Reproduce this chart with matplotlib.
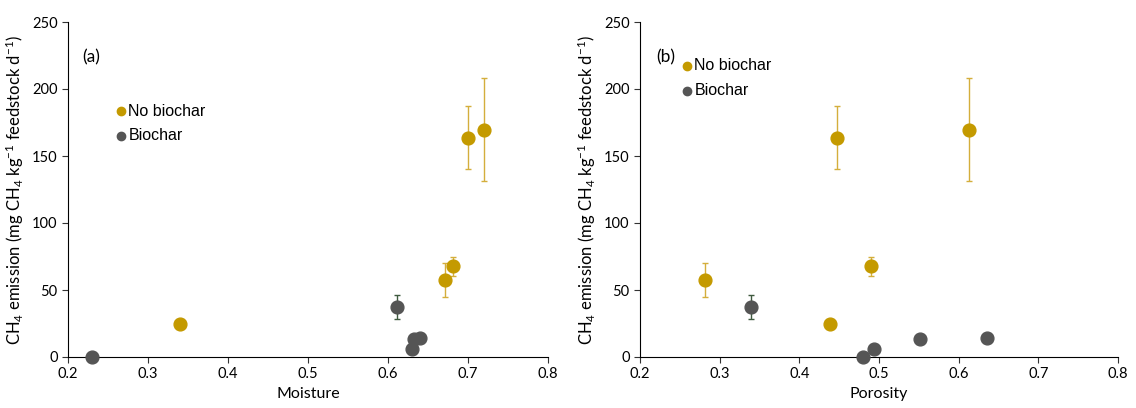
import matplotlib.pyplot as plt

plt.rcParams['font.family'] = ['Lato', 'DejaVu Sans']
plt.rcParams['mathtext.fontset'] = 'custom'
plt.rcParams['mathtext.rm'] = 'Lato'
plt.rcParams['mathtext.it'] = 'Lato:italic'

# no biochar
nb_moist = [0.34, 0.671, 0.681, 0.700, 0.720]
nb_poro = [0.438, 0.281, 0.490, 0.447, 0.613]
nb_ch4 = [25, 57.5, 67.7, 163.7, 169.6]
nb_err = [0, 12.7, 7.3, 23.5, 38.5]

# biochar
bc_moist = [0.23, 0.611, 0.630, 0.632, 0.640]
bc_poro = [0.480, 0.339, 0.494, 0.551, 0.635]
bc_ch4 = [0, 37.1, 6, 13.2, 14]
bc_err = [0, 9, 0, 0, 0]

gold = '#C49A00'
gold_err = '#D4AE3C'
grey = '#555555'
grey_err = '#3F5A3F'

ylabel = 'CH$_4$ emission (mg CH$_4$ kg$^{-1}$ feedstock d$^{-1}$)'

fig = plt.figure(figsize=(11.36, 4.08), dpi=100)
ax1 = fig.add_axes([68/1136, 51/408, 480/1136, 335/408])
ax2 = fig.add_axes([640/1136, 51/408, 478/1136, 335/408])

panels = [(ax1, nb_moist, bc_moist, 'Moisture', '(a)', (0.110, 0.734), (0.03, 0.895)),
          (ax2, nb_poro, bc_poro, 'Porosity', '(b)', (0.098, 0.869), (0.035, 0.895))]

for ax, nbx, bcx, xlabel, tag, legpos, tagpos in panels:
    ax.errorbar(nbx, nb_ch4, yerr=nb_err, fmt='none', ecolor=gold_err, elinewidth=1,
                capsize=2.5, capthick=1, zorder=1)
    ax.errorbar(bcx, bc_ch4, yerr=bc_err, fmt='none', ecolor=grey_err, elinewidth=1,
                capsize=2.5, capthick=1, zorder=1)
    ax.plot(nbx, nb_ch4, 'o', color=gold, markersize=9.2, zorder=3, clip_on=False)
    ax.plot(bcx, bc_ch4, 'o', color=grey, markersize=9.2, zorder=3, clip_on=False)

    ax.set_xlim(0.2, 0.8)
    ax.set_ylim(0, 250)
    ax.set_xticks([0.2, 0.3, 0.4, 0.5, 0.6, 0.7, 0.8])
    ax.set_xticklabels(['0.2', '0.3', '0.4', '0.5', '0.6', '0.7', '0.8'])
    ax.set_yticks([0, 50, 100, 150, 200, 250])
    ax.spines['top'].set_visible(False)
    ax.spines['right'].set_visible(False)
    ax.tick_params(axis='both', labelsize=10.5, length=4, width=0.8, color='#333333')
    ax.set_xlabel(xlabel, fontsize=11.5)
    ax.set_ylabel(ylabel, fontsize=12)
    ax.text(tagpos[0], tagpos[1], tag, transform=ax.transAxes, fontsize=12.5, va='center')

    for i, (lab, col) in enumerate([('No biochar', gold), ('Biochar', grey)]):
        y = legpos[1] - i * 0.074
        ax.plot([legpos[0]], [y], 'o', color=col, markersize=6, transform=ax.transAxes,
                clip_on=False)
        ax.text(legpos[0] + 0.016, y, lab, transform=ax.transAxes, va='center',
                family='Liberation Sans', fontsize=11.5)

fig.savefig('out.png', dpi=100)
